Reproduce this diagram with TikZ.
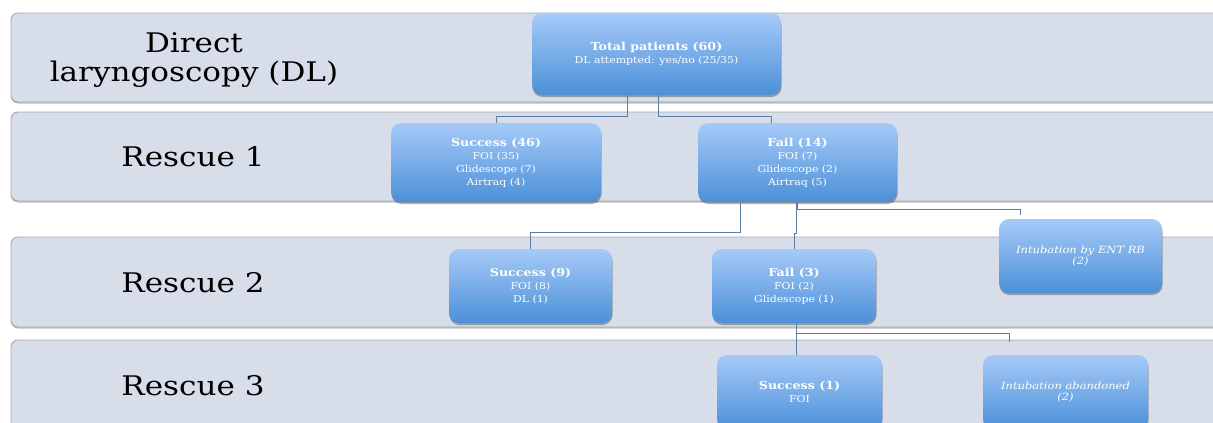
\documentclass[tikz,border=0pt]{standalone}
\usepackage{fontspec}
\setmainfont{DejaVu Serif}[FakeStretch=1.15]
\usetikzlibrary{shadows}
\definecolor{bandfill}{HTML}{D7DEEA}
\definecolor{bandline}{HTML}{A3A6AB}
\definecolor{boxtop}{HTML}{A6CAF8}
\definecolor{boxbottom}{HTML}{4B90D8}
\definecolor{linkcol}{HTML}{5B7DA6}
\newcommand\boxhead[1]{{\fontsize{11}{15}\selectfont\bfseries #1}}

\begin{document}
\begin{tikzpicture}[x=1pt,y=-1pt,
  band/.style={draw=bandline,fill=bandfill,rounded corners=7pt,line width=0.9pt,
    drop shadow={shadow xshift=0pt,shadow yshift=-1.5pt,opacity=0.25,fill=black}},
  lbl/.style={align=center,font=\fontsize{27}{29}\selectfont},
  box/.style={rounded corners=10pt,top color=boxtop,bottom color=boxbottom,
    text=white,align=center,inner sep=0pt,font=\fontsize{9.5}{13}\selectfont,
    drop shadow={shadow xshift=0.5pt,shadow yshift=-2pt,opacity=0.3,fill=black}},
  note/.style={box,font=\fontsize{10}{11}\selectfont\itshape},
  link/.style={draw=linkcol,line width=0.8pt}]
  \clip (0,0) rectangle (1213,423);
  \useasboundingbox (0,0) rectangle (1213,423);
  \draw[band] (11,13) rectangle (1240,102);
  \draw[band] (11,112) rectangle (1240,201);
  \draw[band] (11,237) rectangle (1240,327);
  \draw[band] (11,340) rectangle (1240,440);
  \node[lbl] (dl) at (194,60) {Direct\\laryngoscopy (DL)};
  \node[lbl] (r1) at (193,157) {Rescue 1};
  \node[lbl] (r2) at (193,283) {Rescue 2};
  \node[lbl] (r3) at (193,386) {Rescue 3};
  \node[box,minimum width=249pt,minimum height=82pt] (total) at (656.5,54)
    {\boxhead{Total patients (60)}\\DL attempted: yes/no (25/35)};
  \node[box,minimum width=210pt,minimum height=79pt] (s46) at (496,162.5)
    {\boxhead{Success (46)}\\FOI (35)\\Glidescope (7)\\Airtraq (4)};
  \node[box,minimum width=199pt,minimum height=79pt] (f14) at (797.5,162.5)
    {\boxhead{Fail (14)}\\FOI (7)\\Glidescope (2)\\Airtraq (5)};
  \node[note,minimum width=163pt,minimum height=74pt] (ent) at (1080.5,256)
    {Intubation by ENT RB\\(2)};
  \node[box,minimum width=163pt,minimum height=74pt] (s9) at (530.5,286)
    {\boxhead{Success (9)}\\FOI (8)\\DL (1)};
  \node[box,minimum width=164pt,minimum height=74pt] (f3) at (794,286)
    {\boxhead{Fail (3)}\\FOI (2)\\Glidescope (1)};
  \node[box,minimum width=165pt,minimum height=74pt] (s1) at (799.5,392)
    {\boxhead{Success (1)}\\FOI};
  \node[note,minimum width=165pt,minimum height=74pt] (ab) at (1065.5,392)
    {Intubation abandoned\\(2)};
  \draw[link] ([xshift=-29.5pt]total.south) -- ++(0,21) -| (s46.north);
  \draw[link] ([xshift=1.5pt]total.south) -- ++(0,21) -| ([xshift=-26.5pt]f14.north);
  \draw[link] ([xshift=-57pt]f14.south) -- ++(0,30) -| (s9.north);
  \draw[link] ([xshift=-1pt]f14.south) -- ++(0,31) -| (f3.north);
  \draw[link,shorten >=4pt] ([xshift=-0.5pt]f14.south) -- ++(0,7) -| ([xshift=-60pt]ent.north);
  \draw[link] ([xshift=2pt]f3.south) -- ([xshift=-3.5pt]s1.north);
  \draw[link,shorten >=13pt] ([xshift=2pt]f3.south) -- ++(0,10) -| ([xshift=-56.5pt]ab.north);
\end{tikzpicture}
\end{document}
